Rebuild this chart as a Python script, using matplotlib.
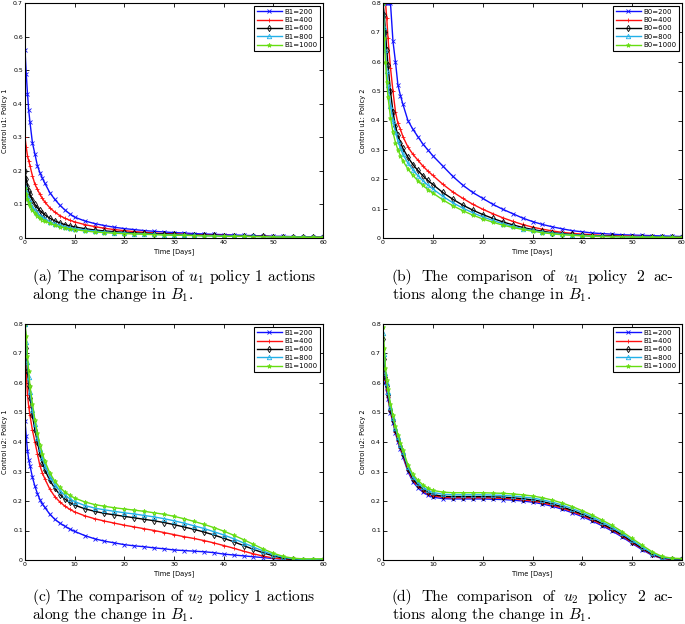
import numpy as np
import matplotlib
matplotlib.use('Agg')
import matplotlib.pyplot as plt
from matplotlib.ticker import FuncFormatter

#-----------------------------------------------------------------------------------------------------------------------
# Data

t = [0, 0.25, 0.5, 0.75, 1, 1.5, 2, 2.5, 3, 3.5, 4, 5, 6, 7, 8, 9, 10, 12, 14, 16, 18, 20,
     22, 24, 26, 28, 30, 32, 34, 36, 38, 40, 42, 44, 46, 48, 50, 52, 54, 56, 58, 60]

# (a) control u1, policy 1
a_200 = [0.56, 0.49, 0.43, 0.38, 0.345, 0.283, 0.25, 0.215, 0.195, 0.178, 0.163, 0.135, 0.115, 0.098, 0.084,
         0.072, 0.062, 0.051, 0.043, 0.037, 0.032, 0.028, 0.025, 0.022, 0.020, 0.018, 0.016, 0.015, 0.013,
         0.012, 0.011, 0.010, 0.009, 0.008, 0.007, 0.006, 0.005, 0.005, 0.004, 0.003, 0.003, 0.002]
a_400 = [0.30, 0.27, 0.245, 0.23, 0.215, 0.185, 0.16, 0.145, 0.13, 0.118, 0.107, 0.09, 0.077, 0.067, 0.059,
         0.053, 0.048, 0.040, 0.034, 0.029, 0.025, 0.022, 0.019, 0.017, 0.015, 0.013, 0.012, 0.011, 0.010,
         0.009, 0.008, 0.008, 0.007, 0.006, 0.005, 0.005, 0.004, 0.004, 0.003, 0.003, 0.002, 0.002]
a_600 = [0.20, 0.175, 0.155, 0.14, 0.13, 0.113, 0.10, 0.09, 0.082, 0.075, 0.069, 0.059, 0.051, 0.045, 0.040,
         0.036, 0.033, 0.028, 0.024, 0.021, 0.019, 0.017, 0.015, 0.014, 0.013, 0.012, 0.011, 0.010, 0.009,
         0.008, 0.008, 0.007, 0.006, 0.006, 0.005, 0.005, 0.004, 0.004, 0.003, 0.003, 0.002, 0.002]
a_800 = [0.155, 0.14, 0.125, 0.115, 0.105, 0.092, 0.082, 0.074, 0.067, 0.062, 0.057, 0.049, 0.043, 0.038, 0.034,
         0.031, 0.028, 0.024, 0.021, 0.018, 0.016, 0.015, 0.013, 0.012, 0.011, 0.010, 0.009, 0.009, 0.008,
         0.007, 0.007, 0.006, 0.006, 0.005, 0.005, 0.004, 0.004, 0.003, 0.003, 0.003, 0.002, 0.002]
a_1000 = [0.15, 0.13, 0.115, 0.105, 0.096, 0.083, 0.074, 0.066, 0.060, 0.055, 0.051, 0.044, 0.038, 0.034, 0.030,
          0.027, 0.025, 0.021, 0.018, 0.016, 0.014, 0.013, 0.012, 0.011, 0.010, 0.009, 0.008, 0.008, 0.007,
          0.006, 0.006, 0.005, 0.005, 0.005, 0.004, 0.004, 0.003, 0.003, 0.003, 0.002, 0.002, 0.002]

# (b) control u1, policy 2
b_200 = [0.8, 0.8, 0.8, 0.8, 0.8, 0.8, 0.67, 0.60, 0.52, 0.485, 0.455, 0.40, 0.37, 0.345, 0.32,
         0.30, 0.28, 0.245, 0.21, 0.18, 0.155, 0.135, 0.115, 0.098, 0.083, 0.068, 0.056, 0.046, 0.038,
         0.031, 0.025, 0.021, 0.017, 0.015, 0.013, 0.011, 0.010, 0.009, 0.008, 0.007, 0.006, 0.005]
b_400 = [0.8, 0.8, 0.8, 0.75, 0.68, 0.58, 0.50, 0.43, 0.39, 0.37, 0.345, 0.31, 0.285, 0.265, 0.245,
         0.228, 0.213, 0.183, 0.157, 0.135, 0.115, 0.098, 0.083, 0.069, 0.057, 0.046, 0.037, 0.030, 0.024,
         0.019, 0.016, 0.013, 0.011, 0.009, 0.008, 0.007, 0.006, 0.005, 0.005, 0.004, 0.004, 0.003]
b_600 = [0.8, 0.76, 0.70, 0.64, 0.59, 0.50, 0.43, 0.38, 0.35, 0.325, 0.305, 0.275, 0.25, 0.23, 0.212,
         0.196, 0.182, 0.155, 0.132, 0.112, 0.095, 0.080, 0.067, 0.055, 0.045, 0.036, 0.029, 0.023, 0.018,
         0.015, 0.012, 0.010, 0.008, 0.007, 0.006, 0.005, 0.005, 0.004, 0.004, 0.003, 0.003, 0.003]
b_800 = [0.8, 0.72, 0.64, 0.57, 0.52, 0.45, 0.40, 0.36, 0.33, 0.305, 0.285, 0.255, 0.232, 0.212, 0.195,
         0.18, 0.167, 0.142, 0.12, 0.102, 0.086, 0.072, 0.060, 0.049, 0.040, 0.032, 0.026, 0.020, 0.016,
         0.013, 0.011, 0.009, 0.007, 0.006, 0.005, 0.005, 0.004, 0.004, 0.003, 0.003, 0.003, 0.002]
b_1000 = [0.8, 0.68, 0.60, 0.53, 0.48, 0.41, 0.36, 0.325, 0.30, 0.28, 0.262, 0.235, 0.213, 0.195, 0.179,
          0.165, 0.153, 0.13, 0.11, 0.093, 0.078, 0.065, 0.054, 0.044, 0.036, 0.029, 0.023, 0.018, 0.014,
          0.011, 0.009, 0.007, 0.006, 0.005, 0.004, 0.004, 0.003, 0.003, 0.003, 0.002, 0.002, 0.002]

# (c) control u2, policy 1
c_200 = [0.47, 0.42, 0.37, 0.34, 0.32, 0.28, 0.25, 0.225, 0.205, 0.19, 0.178, 0.155, 0.138, 0.125, 0.115,
         0.105, 0.097, 0.083, 0.072, 0.064, 0.058, 0.052, 0.048, 0.045, 0.041, 0.038, 0.034, 0.032, 0.030,
         0.028, 0.025, 0.020, 0.017, 0.014, 0.011, 0.008, 0.005, 0.003, 0.001, 0.0, 0.0, 0.0]
c_400 = [0.71, 0.63, 0.56, 0.52, 0.49, 0.44, 0.40, 0.36, 0.32, 0.295, 0.275, 0.24, 0.215, 0.197, 0.183,
         0.172, 0.163, 0.15, 0.14, 0.132, 0.125, 0.118, 0.112, 0.106, 0.10, 0.093, 0.086, 0.079, 0.073,
         0.066, 0.058, 0.049, 0.040, 0.030, 0.021, 0.013, 0.007, 0.003, 0.001, 0.0, 0.0, 0.0]
c_600 = [0.8, 0.72, 0.64, 0.59, 0.55, 0.49, 0.44, 0.40, 0.36, 0.33, 0.305, 0.27, 0.243, 0.222, 0.207,
         0.195, 0.186, 0.174, 0.165, 0.158, 0.153, 0.148, 0.143, 0.138, 0.133, 0.127, 0.12, 0.112, 0.104,
         0.095, 0.085, 0.074, 0.062, 0.049, 0.036, 0.024, 0.014, 0.006, 0.002, 0.001, 0.0, 0.0]
c_800 = [0.8, 0.74, 0.67, 0.62, 0.57, 0.51, 0.46, 0.415, 0.375, 0.345, 0.32, 0.282, 0.255, 0.235, 0.22,
         0.208, 0.198, 0.185, 0.176, 0.17, 0.165, 0.16, 0.156, 0.151, 0.146, 0.14, 0.133, 0.125, 0.116,
         0.107, 0.096, 0.085, 0.072, 0.058, 0.044, 0.030, 0.018, 0.009, 0.004, 0.002, 0.002, 0.003]
c_1000 = [0.8, 0.76, 0.69, 0.64, 0.59, 0.53, 0.475, 0.43, 0.39, 0.36, 0.335, 0.295, 0.267, 0.246, 0.231,
          0.219, 0.21, 0.197, 0.188, 0.182, 0.177, 0.173, 0.169, 0.165, 0.16, 0.155, 0.148, 0.14, 0.131,
          0.121, 0.11, 0.098, 0.084, 0.069, 0.053, 0.037, 0.023, 0.012, 0.006, 0.004, 0.004, 0.004]

# (d) control u2, policy 2
d_200 = [0.65, 0.63, 0.60, 0.57, 0.545, 0.50, 0.465, 0.43, 0.40, 0.375, 0.35, 0.30, 0.265, 0.245, 0.23,
         0.22, 0.213, 0.208, 0.207, 0.207, 0.207, 0.207, 0.206, 0.205, 0.203, 0.20, 0.196, 0.19, 0.182,
         0.172, 0.16, 0.147, 0.132, 0.116, 0.098, 0.078, 0.056, 0.035, 0.016, 0.005, 0.002, 0.002]
d_400 = [0.68, 0.65, 0.61, 0.58, 0.552, 0.505, 0.47, 0.435, 0.405, 0.38, 0.355, 0.305, 0.27, 0.25, 0.235,
         0.225, 0.218, 0.212, 0.211, 0.211, 0.211, 0.211, 0.21, 0.209, 0.207, 0.204, 0.20, 0.194, 0.186,
         0.176, 0.164, 0.151, 0.136, 0.12, 0.102, 0.082, 0.059, 0.038, 0.018, 0.006, 0.002, 0.002]
d_600 = [0.75, 0.68, 0.62, 0.59, 0.56, 0.51, 0.475, 0.44, 0.41, 0.385, 0.36, 0.31, 0.275, 0.255, 0.24,
         0.23, 0.222, 0.216, 0.215, 0.215, 0.215, 0.215, 0.214, 0.213, 0.211, 0.208, 0.204, 0.198, 0.19,
         0.18, 0.168, 0.155, 0.14, 0.123, 0.105, 0.085, 0.062, 0.04, 0.02, 0.007, 0.003, 0.003]
d_800 = [0.77, 0.70, 0.635, 0.60, 0.57, 0.52, 0.482, 0.447, 0.417, 0.39, 0.366, 0.316, 0.282, 0.262, 0.247,
         0.237, 0.229, 0.223, 0.221, 0.221, 0.221, 0.221, 0.22, 0.219, 0.217, 0.214, 0.21, 0.204, 0.196,
         0.186, 0.174, 0.161, 0.146, 0.129, 0.111, 0.09, 0.067, 0.044, 0.023, 0.009, 0.004, 0.004]
d_1000 = [0.79, 0.72, 0.65, 0.61, 0.58, 0.53, 0.49, 0.455, 0.425, 0.398, 0.373, 0.323, 0.29, 0.27, 0.255,
          0.244, 0.236, 0.23, 0.228, 0.228, 0.228, 0.228, 0.227, 0.226, 0.224, 0.221, 0.217, 0.211, 0.203,
          0.193, 0.181, 0.167, 0.152, 0.135, 0.117, 0.096, 0.073, 0.05, 0.028, 0.012, 0.006, 0.005]

labels_b1 = ['B1=200', 'B1=400', 'B1=600', 'B1=800', 'B1=1000']
labels_b0 = ['B0=200', 'B0=400', 'B0=600', 'B0=800', 'B0=1000']

colors = ['#1010ff', '#ff1010', '#000000', '#22b0e8', '#66dd11']
markers = ['x', '+', 'd', '^', '*']

#-----------------------------------------------------------------------------------------------------------------------
# Figure

plt.rcParams['mathtext.fontset'] = 'cm'
plt.rcParams['font.family'] = 'DejaVu Sans'

W, H = 685, 624
fig = plt.figure(figsize=(W / 100, H / 100), dpi=100)


def px_axes(x0, y0, x1, y1):
    return fig.add_axes([x0 / W, 1 - y1 / H, (x1 - x0) / W, (y1 - y0) / H])


panels = [
    (px_axes(25, 3, 323, 238), [a_200, a_400, a_600, a_800, a_1000], 0.7, 'Control u1: Policy 1', labels_b1, -0.058),
    (px_axes(383, 3, 682, 238), [b_200, b_400, b_600, b_800, b_1000], 0.8, 'Control u1: Policy 2', labels_b0, -0.057),
    (px_axes(25, 324, 323, 560), [c_200, c_400, c_600, c_800, c_1000], 0.8, 'Control u2: Policy 1', labels_b1, -0.058),
    (px_axes(383, 324, 682, 560), [d_200, d_400, d_600, d_800, d_1000], 0.8, 'Control u2: Policy 2', labels_b1, -0.057),
]

fmt = FuncFormatter(lambda v, p: f'{v:g}')

for ax, series, ytop, ylab, labs, lx in panels:
    for y, c, m, lab in zip(series, colors, markers, labs):
        ax.plot(t, y, color=c, marker=m, markersize=3.2, markeredgewidth=0.6, markerfacecolor='none',
                linewidth=1.0, label=lab)
    ax.set_xlim(0, 60)
    ax.set_ylim(0, ytop)
    ax.set_xticks(np.arange(0, 61, 10))
    ax.set_yticks(np.arange(0, ytop + 0.01, 0.1))
    ax.xaxis.set_major_formatter(fmt)
    ax.yaxis.set_major_formatter(fmt)
    ax.tick_params(direction='in', top=True, right=True, length=3, width=0.6, labelsize=4.5, pad=1.5)
    for s in ax.spines.values():
        s.set_linewidth(0.8)
    ax.set_xlabel('Time [Days]', fontsize=4.8, labelpad=2)
    ax.set_ylabel(ylab, fontsize=4.8)
    ax.yaxis.set_label_coords(lx, 0.5)
    leg = ax.legend(loc='upper right', fontsize=5, handlelength=3.6, borderaxespad=0.4,
                    fancybox=False, framealpha=1, edgecolor='black', borderpad=0.4,
                    labelspacing=0.35, handletextpad=0.4)
    leg.get_frame().set_linewidth(0.8)

#-----------------------------------------------------------------------------------------------------------------------
# Captions (y values are baselines in pixels)

cap_kw = dict(fontsize=11.2, family='cmr10', va='baseline', ha='left')
renderer = fig.canvas.get_renderer()


def justified(words, x0, x1, y):
    # place words so the line fills x0..x1 (pixels), like a justified LaTeX line
    arts = [fig.text(0, 1 - y / H, w, **cap_kw) for w in words]
    widths = [a.get_window_extent(renderer).width for a in arts]
    gap = (x1 - x0 - sum(widths)) / (len(words) - 1)
    x = x0
    for a, w in zip(arts, widths):
        a.set_x(x / W)
        x += w + gap


fig.text(32 / W, 1 - 281 / H, r'(a) The comparison of $u_1$ policy 1 actions', **cap_kw)
fig.text(32 / W, 1 - 299 / H, r'along the change in $B_1$.', **cap_kw)
justified(['(b)', 'The', 'comparison', 'of', r'$u_1$', 'policy', '2', 'ac-'], 392, 673, 281)
fig.text(392 / W, 1 - 299 / H, r'tions along the change in $B_1$.', **cap_kw)
fig.text(32 / W, 1 - 601 / H, r'(c) The comparison of $u_2$ policy 1 actions', **cap_kw)
fig.text(32 / W, 1 - 619 / H, r'along the change in $B_1$.', **cap_kw)
justified(['(d)', 'The', 'comparison', 'of', r'$u_2$', 'policy', '2', 'ac-'], 392, 673, 601)
fig.text(392 / W, 1 - 619 / H, r'tions along the change in $B_1$.', **cap_kw)

fig.savefig('out.png', dpi=100)
